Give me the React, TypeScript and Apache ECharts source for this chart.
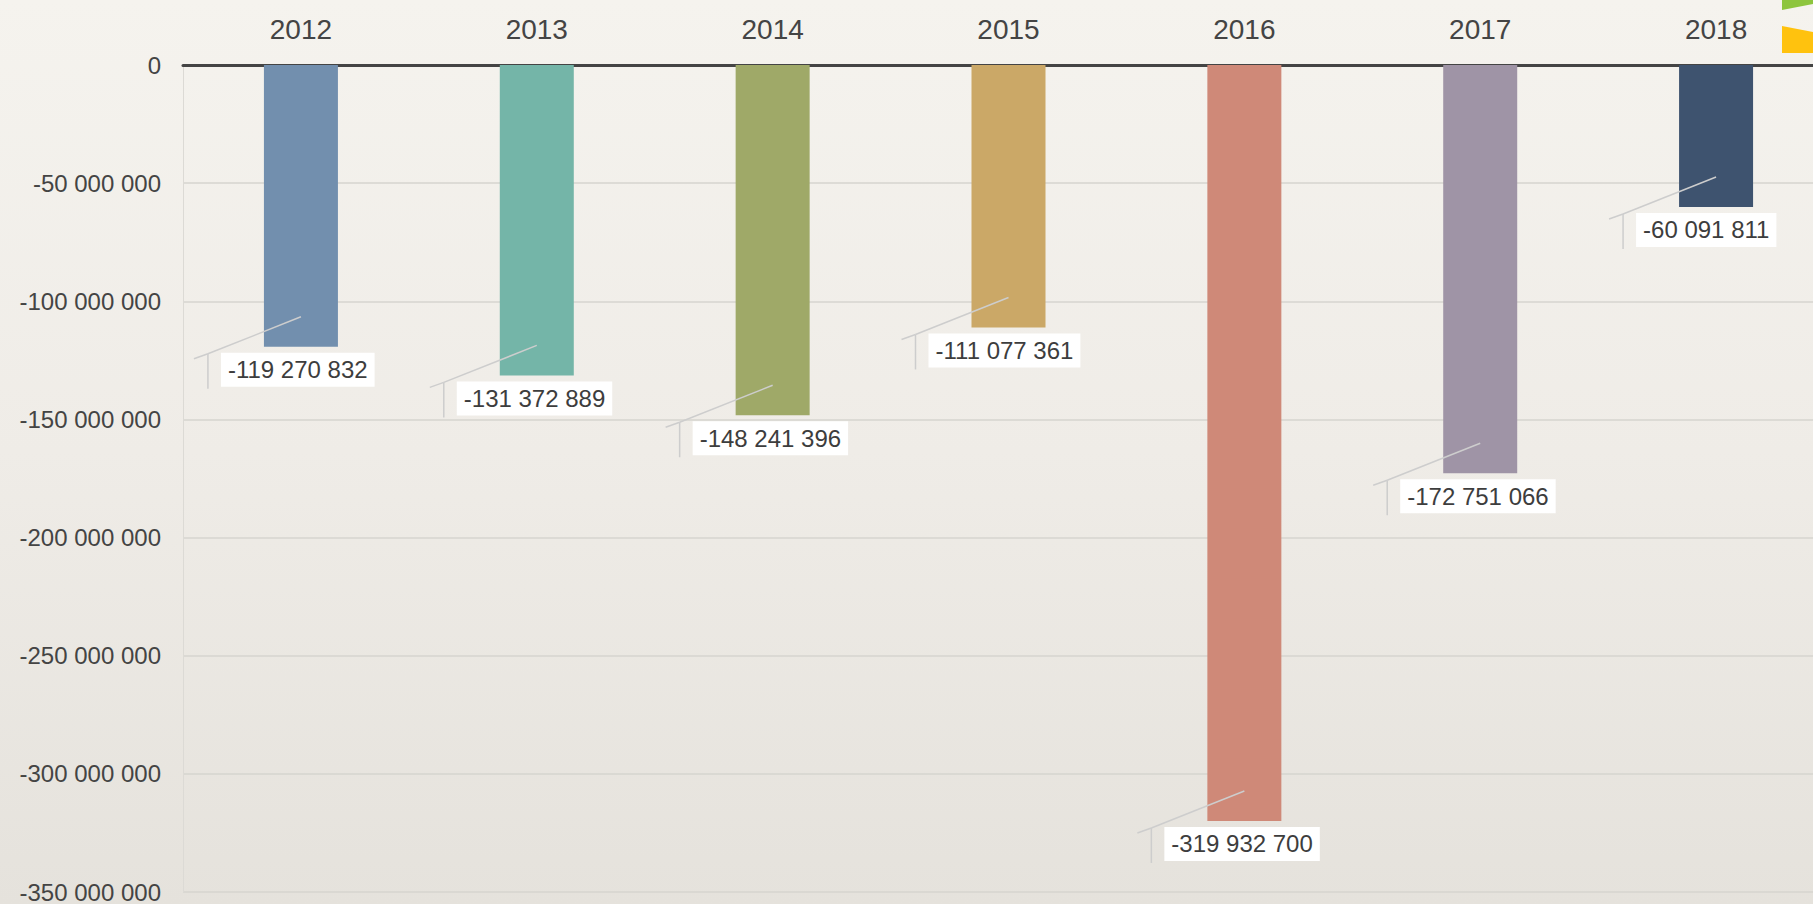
import React, { useEffect, useRef } from "react";
import * as echarts from "echarts";

const years = ["2012", "2013", "2014", "2015", "2016", "2017", "2018"];
const values = [-119270832, -131372889, -148241396, -111077361, -319932700, -172751066, -60091811];
const barColors = ["#728fae", "#74b5a8", "#9fa968", "#cba867", "#cf8978", "#9f94a6", "#3e536f"];
const yTicks = { min: -350000000, max: 0, interval: 50000000 };

const fmt = (v: number) => {
  const s = Math.abs(Math.round(v)).toString().replace(/\B(?=(\d{3})+(?!\d))/g, " ");
  return (v < 0 ? "-" : "") + s;
};

const FONT = "Liberation Sans, Arial, sans-serif";

export default function App() {
  const ref = useRef<HTMLDivElement>(null);
  useEffect(() => {
    if (!ref.current) return;
    const chart = echarts.init(ref.current, undefined, { renderer: "svg" });
    const lineStyle = { stroke: "#cdcdcd", lineWidth: 1.5 };
    chart.setOption({
      animation: false,
      backgroundColor: "transparent",
      grid: { left: 183, top: 65, width: 1651, height: 827, containLabel: false },
      xAxis: {
        type: "category",
        position: "top",
        data: years,
        axisLine: { show: true, onZero: false, lineStyle: { color: "#444444", width: 3 } },
        axisTick: { show: false },
        axisLabel: { color: "#444444", fontSize: 28, fontFamily: FONT, margin: 22 },
        splitLine: { show: false },
      },
      yAxis: {
        type: "value",
        min: yTicks.min,
        max: yTicks.max,
        interval: yTicks.interval,
        axisLine: { show: true, lineStyle: { color: "#dcdad5", width: 1 } },
        axisTick: { show: false },
        axisLabel: {
          color: "#444444",
          fontSize: 24,
          fontFamily: FONT,
          margin: 22,
          formatter: (v: number) => fmt(v),
        },
        splitLine: { show: true, lineStyle: { color: "#d6d4cf", width: 1.5 } },
      },
      series: [
        {
          type: "bar",
          barWidth: 74,
          data: values.map((v, i) => ({ value: v, itemStyle: { color: barColors[i] } })),
          z: 2,
        },
        {
          type: "custom",
          z: 5,
          data: values.map((v, i) => [i, v]),
          renderItem: (params: any, api: any) => {
            const idx = api.value(0);
            const val = api.value(1);
            const pt = api.coord([idx, val]);
            const cx = pt[0];
            const ey = pt[1];
            const px = cx - 93;
            const py = ey + 7;
            return {
              type: "group",
              children: [
                { type: "line", shape: { x1: cx, y1: ey - 30, x2: px, y2: py }, style: lineStyle },
                { type: "line", shape: { x1: px, y1: py, x2: px, y2: ey + 42 }, style: lineStyle },
                { type: "line", shape: { x1: px, y1: py, x2: cx - 107, y2: ey + 12 }, style: lineStyle },
                {
                  type: "text",
                  x: cx - 80,
                  y: ey + 6,
                  style: {
                    text: fmt(val),
                    font: `24px ${FONT}`,
                    fill: "#3d3d3d",
                    backgroundColor: "#ffffff",
                    padding: [5, 7, 5, 7],
                    align: "left",
                    verticalAlign: "top",
                  },
                },
              ],
            };
          },
        },
      ],
      graphic: [
        {
          type: "polygon",
          shape: { points: [[1782, 0], [1813, 0], [1813, 4], [1782, 10]] },
          style: { fill: "#8dc53e" },
        },
        {
          type: "polygon",
          shape: { points: [[1782, 26], [1813, 32], [1813, 53], [1782, 53]] },
          style: { fill: "#ffc20e" },
        },
      ],
    });
    return () => chart.dispose();
  }, []);
  return (
    <div
      style={{
        position: "fixed",
        left: 0,
        top: 0,
        width: 1813,
        height: 904,
        overflow: "hidden",
        background: "linear-gradient(180deg, #f5f3ee 0%, #efece7 50%, #e5e2dc 100%)",
      }}
    >
      <div ref={ref} style={{ position: "absolute", left: 0, top: 0, width: 1840, height: 904 }} />
    </div>
  );
}
